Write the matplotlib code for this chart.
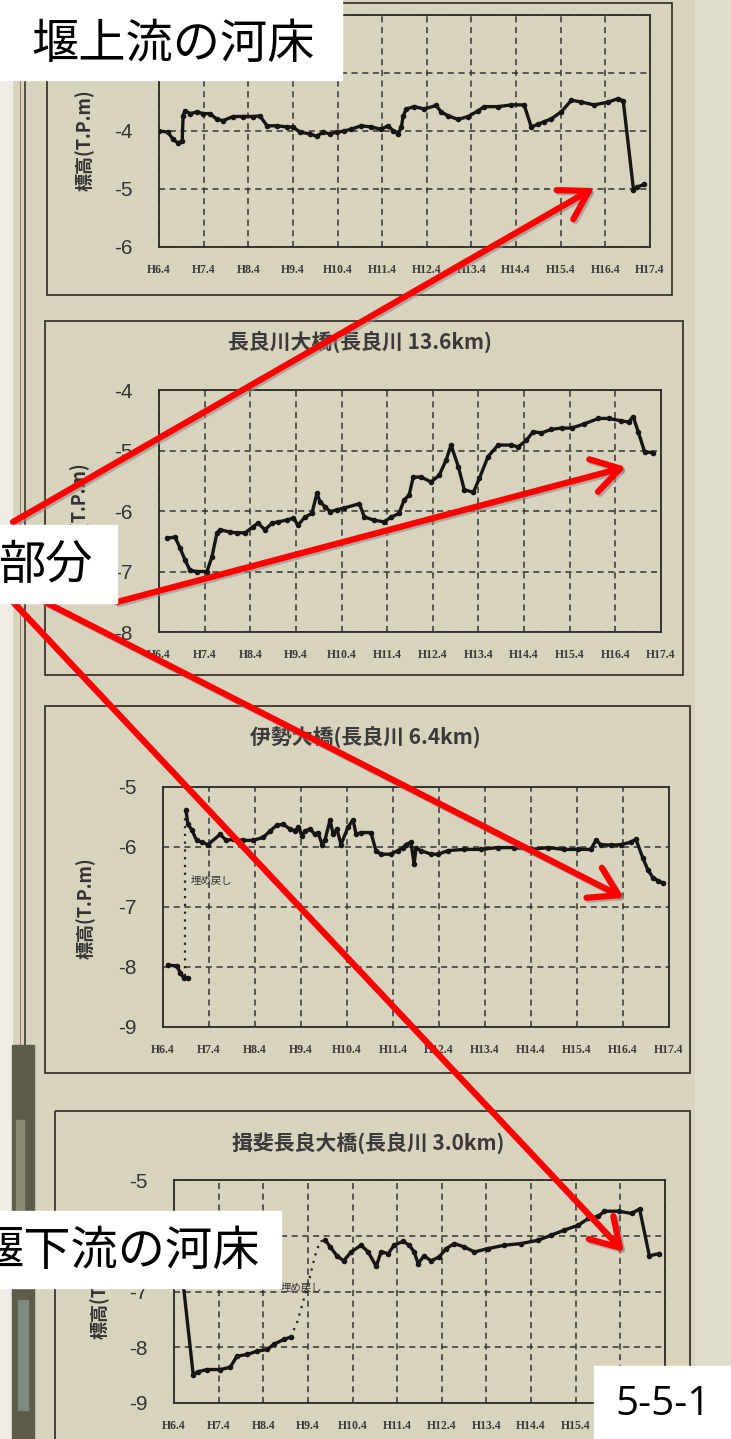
import matplotlib
matplotlib.use("Agg")
import matplotlib.pyplot as plt
from matplotlib.patches import Rectangle

plt.rcParams['axes.unicode_minus'] = False

# ---- data (x: 6 = H6.4, 7 = H7.4, ...) ----
ticks_x = list(range(6, 18))
tick_labels_x = ["H%d.4" % n for n in ticks_x]

# panel 1 (upstream of the weir, title hidden)
x1 = [6.0, 6.2, 6.31, 6.43, 6.52, 6.54, 6.58, 6.70, 6.85, 6.99, 7.14, 7.30, 7.44, 7.66, 7.89, 8.11,
      8.26, 8.42, 8.64, 8.87, 9.0, 9.16, 9.38, 9.53, 9.68, 9.83, 9.99, 10.15, 10.3, 10.53, 10.75, 10.98,
      11.13, 11.25, 11.36, 11.43, 11.47, 11.54, 11.72, 11.94, 12.21, 12.32, 12.48, 12.7, 12.93, 13.15,
      13.29, 13.6, 13.89, 14.18, 14.34, 14.5, 14.63, 14.79, 15.01, 15.24, 15.46, 15.75, 16.07, 16.29,
      16.40, 16.63, 16.7, 16.87]
y1 = [-4.0, -4.02, -4.14, -4.21, -4.17, -3.74, -3.65, -3.70, -3.67, -3.70, -3.70, -3.80, -3.82, -3.75,
      -3.75, -3.75, -3.74, -3.91, -3.91, -3.93, -3.93, -4.02, -4.05, -4.09, -4.02, -4.05, -4.02, -4.0,
      -3.97, -3.91, -3.93, -3.97, -3.91, -4.0, -4.05, -3.93, -3.74, -3.62, -3.58, -3.62, -3.56, -3.67,
      -3.74, -3.80, -3.75, -3.65, -3.58, -3.58, -3.55, -3.55, -3.93, -3.88, -3.84, -3.79, -3.67, -3.47,
      -3.50, -3.55, -3.50, -3.44, -3.48, -5.01, -4.97, -4.92]

# panel 2 長良川大橋
x2 = [6.18, 6.35, 6.46, 6.57, 6.68, 6.83, 7.05, 7.16, 7.27, 7.34, 7.56, 7.71, 7.89, 8.06, 8.17, 8.32,
      8.48, 8.61, 8.8, 8.94, 9.05, 9.2, 9.35, 9.46, 9.53, 9.64, 9.75, 9.9, 10.06, 10.39, 10.5, 10.71,
      10.93, 11.09, 11.26, 11.37, 11.48, 11.57, 11.75, 11.96, 12.14, 12.29, 12.4, 12.56, 12.69, 12.89,
      13.02, 13.21, 13.43, 13.72, 13.87, 14.05, 14.2, 14.38, 14.6, 14.82, 15.04, 15.32, 15.63, 15.85,
      16.13, 16.29, 16.39, 16.5, 16.64, 16.83]
y2 = [-6.45, -6.43, -6.61, -6.81, -6.98, -7.0, -7.0, -6.76, -6.36, -6.31, -6.35, -6.36, -6.36, -6.26,
      -6.2, -6.31, -6.2, -6.18, -6.15, -6.12, -6.23, -6.1, -6.04, -5.71, -5.85, -5.93, -6.01, -5.98,
      -5.95, -5.88, -6.1, -6.15, -6.18, -6.1, -6.04, -5.82, -5.74, -5.44, -5.44, -5.52, -5.41, -5.16,
      -4.91, -5.27, -5.65, -5.69, -5.46, -5.1, -4.91, -4.91, -4.94, -4.83, -4.69, -4.71, -4.65, -4.63,
      -4.63, -4.56, -4.47, -4.47, -4.51, -4.53, -4.44, -4.69, -5.02, -5.04]

# panel 3 伊勢大橋
x3a = [6.1, 6.3, 6.38, 6.45, 6.55]
y3a = [-7.97, -7.98, -8.1, -8.18, -8.18]
x3d = [6.48, 6.48]
y3d = [-8.15, -5.42]
x3b = [6.5, 6.54, 6.63, 6.73, 6.84, 6.98, 7.24, 7.38, 7.52, 7.74, 7.96, 8.18, 8.33, 8.47, 8.61, 8.76,
       8.87, 8.94, 9.02, 9.09, 9.20, 9.30, 9.37, 9.46, 9.52, 9.63, 9.70, 9.78, 9.87, 10.02, 10.13, 10.2,
       10.3, 10.52, 10.63, 10.74, 10.96, 11.1, 11.22, 11.28, 11.39, 11.46, 11.5, 11.6, 11.83, 11.98,
       12.2, 12.54, 12.91, 13.28, 13.63, 14.0, 14.37, 14.72, 15.02, 15.3, 15.41, 15.52, 15.74, 15.96,
       16.17, 16.28, 16.43, 16.54, 16.65, 16.76, 16.87]
y3b = [-5.39, -5.62, -5.72, -5.89, -5.92, -5.96, -5.79, -5.89, -5.87, -5.89, -5.89, -5.84, -5.73, -5.64,
       -5.62, -5.70, -5.73, -5.67, -5.81, -5.73, -5.70, -5.79, -5.76, -5.96, -5.89, -5.55, -5.79, -5.70,
       -5.96, -5.67, -5.55, -5.79, -5.76, -5.76, -6.06, -6.12, -6.12, -6.06, -6.01, -5.96, -5.92, -6.29,
       -6.01, -6.06, -6.12, -6.12, -6.06, -6.04, -6.04, -6.01, -6.01, -6.04, -6.01, -6.04, -6.04, -6.04,
       -5.89, -5.96, -5.97, -5.96, -5.92, -5.87, -6.18, -6.38, -6.51, -6.56, -6.60]

# panel 4 揖斐長良大橋
x4a = [6.17, 6.43, 6.54, 6.74, 7.03, 7.26, 7.41, 7.64, 7.86, 8.09, 8.23, 8.46, 8.61]
y4a = [-6.6, -8.49, -8.44, -8.40, -8.40, -8.36, -8.16, -8.13, -8.07, -8.04, -7.95, -7.86, -7.82]
x4d = [8.61, 8.76, 8.89, 9.05, 9.16, 9.27, 9.39]
y4d = [-7.82, -7.55, -7.19, -6.72, -6.36, -6.1, -6.08]
x4b = [9.39, 9.5, 9.65, 9.8, 9.97, 10.19, 10.35, 10.53, 10.64, 10.8, 10.93, 11.13, 11.27, 11.38, 11.47,
       11.6, 11.76, 11.94, 12.1, 12.28, 12.5, 12.73, 13.04, 13.4, 13.78, 14.16, 14.45, 14.74, 15.06,
       15.28, 15.51, 15.64, 15.96, 16.25, 16.43, 16.65, 16.87]
y4b = [-6.08, -6.2, -6.36, -6.45, -6.29, -6.17, -6.29, -6.55, -6.29, -6.32, -6.17, -6.1, -6.17, -6.29,
       -6.5, -6.36, -6.45, -6.38, -6.23, -6.14, -6.2, -6.29, -6.23, -6.17, -6.14, -6.08, -5.99, -5.9,
       -5.81, -5.69, -5.65, -5.56, -5.56, -5.6, -5.52, -6.36, -6.32]

titles = ["", "長良川大橋(長良川 13.6km)", "伊勢大橋(長良川 6.4km)", "揖斐長良大橋(長良川 3.0km)"]
ylims = [(-6, -2), (-8, -4), (-9, -5), (-9, -5)]
ylabel = "標高(T.P.m)"
note = "埋め戻し"

W, H = 731, 1439
PAPER = "#d8d3bd"
INK = "#2a2a2a"
JP = ["Noto Sans CJK JP", "DejaVu Sans"]

fig = plt.figure(figsize=(W / 100, H / 100), dpi=100)
fig.patch.set_facecolor(PAPER)

# background layer in pixel coordinates
bg = fig.add_axes([0, 0, 1, 1], zorder=0)
bg.set_xlim(0, W)
bg.set_ylim(H, 0)
bg.axis("off")
bg.add_patch(Rectangle((0, 0), 12, H, color="#eeece4", zorder=1))
bg.add_patch(Rectangle((695, 0), 36, H, color="#e1ddcc", zorder=1))
bg.plot([25, 25], [0, 1050], color="#4a4236", lw=1.3, zorder=2)
bg.plot([20, 20], [0, 1050], color="#8a6a5a", lw=0.6, zorder=2)
bg.add_patch(Rectangle((12, 1045), 22, H - 1045, color="#5d5c49", zorder=2))
bg.add_patch(Rectangle((16, 1120), 8, 90, color="#8b8a70", zorder=3))
bg.add_patch(Rectangle((18, 1300), 10, 110, color="#7c8a80", zorder=3))

# outer boxes (l, t, r, b)
outer = [(47, 3, 672, 295), (45, 321, 683, 675), (45, 706, 690, 1073), (55, 1111, 690, 1460)]
for l, t, r, b in outer:
    bg.add_patch(Rectangle((l, t), r - l, b - t, fill=False, ec="#3a352c", lw=1.3, zorder=3))

# chart axes (l, t, r, b) in pixels
rects = [(159, 15, 650, 247), (159, 390, 661, 632), (163, 787, 669, 1027), (174, 1180, 665, 1403)]
title_pos = [(0, 0), (360, 342), (365, 737), (368, 1143)]
ylabel_pos = [(85, 140), (80, 513), (86, 908), (100, 1288)]

axes = []
for i, (l, t, r, b) in enumerate(rects):
    ax = fig.add_axes([l / W, 1 - b / H, (r - l) / W, (b - t) / H], zorder=2)
    ax.set_facecolor(PAPER)
    ax.set_xlim(6, 17)
    ax.set_ylim(*ylims[i])
    ax.set_xticks(ticks_x)
    ax.set_xticklabels(tick_labels_x, family="Liberation Serif", fontsize=8.5,
                       fontweight="bold", color="#3a3a3a")
    yt = list(range(int(ylims[i][0]), int(ylims[i][1]) + 1))
    ax.set_yticks(yt)
    ax.set_yticklabels([str(v) for v in yt], family="Liberation Sans", fontsize=15, color="#333333")
    ax.tick_params(axis="y", length=0, pad=19)
    ax.tick_params(axis="x", length=0, pad=12)
    ax.grid(True, ls=(0, (4, 3)), color="#333333", lw=1.1)
    for s in ax.spines.values():
        s.set_color(INK)
        s.set_linewidth(1.3)
    axes.append(ax)
    if titles[i]:
        bg.text(title_pos[i][0], title_pos[i][1], titles[i], family=JP, fontsize=15,
                fontweight="bold", color="#3a3a3a", ha="center", va="center", zorder=4)
    bg.text(ylabel_pos[i][0], ylabel_pos[i][1], ylabel, family=JP, fontsize=13, fontweight="bold",
            color="#333333", rotation=90, ha="center", va="center", zorder=4)

line_kw = dict(color="#151515", lw=2.4, marker="o", ms=3, zorder=3)
dot_kw = dict(color="#222222", lw=1.6, ls=(0, (1, 2.5)), zorder=3)

axes[0].plot(x1, y1, **line_kw)
axes[1].plot(x2, y2, **line_kw)
axes[2].plot(x3a, y3a, **line_kw)
axes[2].plot(x3d, y3d, **dot_kw)
axes[2].plot(x3b, y3b, **line_kw)
axes[2].text(6.6, -6.57, note, family=JP, fontsize=7.5, color="#333333", va="center")
axes[3].plot(x4a, y4a, **line_kw)
axes[3].plot(x4d, y4d, **dot_kw)
axes[3].plot(x4b, y4b, **line_kw)
axes[3].text(8.4, -6.93, note, family=JP, fontsize=7.5, color="#333333", va="center")

# overlay: arrows and white labels
top = fig.add_axes([0, 0, 1, 1], zorder=5)
top.set_xlim(0, W)
top.set_ylim(H, 0)
top.axis("off")
top.patch.set_alpha(0)

arrows = [((13, 522), (594, 188)), ((117, 602), (626, 467)),
          ((45, 602), (624, 898)), ((13, 602), (624, 1252))]
for start, tip in arrows:
    top.annotate("", xy=(tip[0] + 2, tip[1] + 2), xytext=(start[0] + 2, start[1] + 2),
                 arrowprops=dict(arrowstyle="->,head_length=0.9,head_width=0.55", lw=4.5,
                                 color="#8c8c8c", alpha=0.6, shrinkA=0, shrinkB=0, mutation_scale=22),
                 zorder=6)
    top.annotate("", xy=tip, xytext=start,
                 arrowprops=dict(arrowstyle="->,head_length=0.9,head_width=0.55", lw=4.5,
                                 color="#ff0000", shrinkA=0, shrinkB=0, mutation_scale=22),
                 zorder=7)

boxes = [(0, 0, 342, 80), (0, 525, 117, 603), (0, 1211, 281, 1288), (594, 1366, 731, 1439)]
for l, t, r, b in boxes:
    top.add_patch(Rectangle((l, t), r - l, b - t, color="white", zorder=8))

top.text(31, 45, "堰上流の河床", family=JP, fontsize=34, color="black", va="center", ha="left", zorder=9)
top.text(-2, 566, "部分", family=JP, fontsize=34, color="black", va="center", ha="left", zorder=9)
top.text(-24, 1252, "堰下流の河床", family=JP, fontsize=34, color="black", va="center", ha="left", zorder=9)
top.text(663, 1405, "5-5-1", family=["Open Sans", "DejaVu Sans"], fontsize=29, color="black",
         va="center", ha="center", zorder=9)

fig.savefig("out.png", dpi=100, facecolor=PAPER)
